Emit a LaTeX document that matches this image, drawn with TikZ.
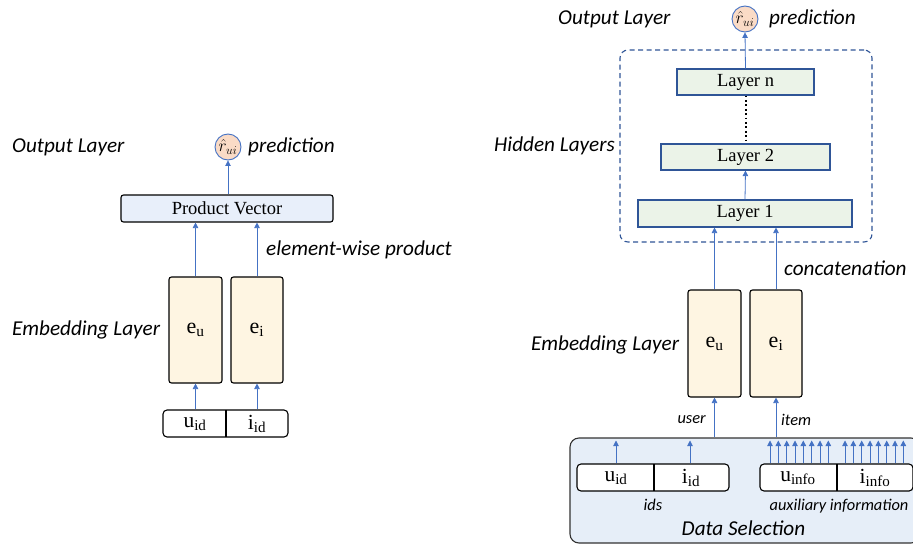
\documentclass[tikz,border=0pt]{standalone}
\usepackage{fontspec}
\setmainfont{Liberation Serif}
\newfontfamily\labfont{Carlito}
\usetikzlibrary{arrows.meta}
\definecolor{arrblue}{HTML}{4472C4}
\definecolor{navy}{HTML}{2F5597}
\definecolor{pvblue}{HTML}{E8EFFA}
\definecolor{cream}{HTML}{FEF5E2}
\definecolor{lgreen}{HTML}{EBF3E8}
\definecolor{peach}{HTML}{FADBC6}
\definecolor{dsblue}{HTML}{E6EEF8}
\definecolor{dsborder}{HTML}{333333}
\tikzset{
  boxs/.style={draw=black, line width=1.1pt, rounded corners=2.5pt, inner sep=0pt, font=\fontsize{18.5}{20}\selectfont},
  pvbox/.style={boxs, fill=pvblue, minimum width=212, minimum height=27},
  embbox/.style={boxs, fill=cream, minimum width=53, minimum height=106, font=\fontsize{22}{23}\selectfont},
  layerbox/.style={boxs, draw=navy, fill=lgreen, rounded corners=0pt, minimum height=26},
  idbox/.style={boxs, fill=white, rounded corners=4pt, minimum height=27},
  idtxt/.style={inner sep=0pt, font=\fontsize{21.5}{22}\selectfont},
  pred/.style={circle, draw=arrblue, fill=peach, line width=0.9pt, minimum size=26, inner sep=0pt, font=\fontsize{18.5}{19}\selectfont},
  lab/.style={inner sep=0pt, font=\labfont\itshape\fontsize{21.2}{25}\selectfont},
  smalllab/.style={inner sep=0pt, font=\labfont\itshape\fontsize{16.4}{19}\selectfont},
  arr/.style={draw=arrblue, line width=0.8pt, -{Triangle[width=5.5pt,length=5.5pt]}},
}
\begin{document}
\begin{tikzpicture}[x=1pt,y=-1pt]
\useasboundingbox (0,0) rectangle (913,546);
% ---------------- Left model ----------------
\node[lab, anchor=west] (ol1) at (12,147) {Output Layer};
\node[pred] (c1) at (228,147) {$\hat r_{ui}$};
\node[lab, anchor=west] (pr1) at (248,147) {prediction};
\node[pvbox] (pv) at (227,208.5) {Product Vector};
\node[embbox] (eu1) at (195.5,330) {e\textsubscript{u}};
\node[embbox, minimum width=52] (ei1) at (257,330) {e\textsubscript{i}};
\node[lab, anchor=west] (ewp) at (266,250) {element-wise product};
\node[lab, anchor=west] (el1) at (12,330) {Embedding Layer};
\node[idbox, minimum width=125] (id1) at (225.5,423.5) {};
\draw[black, line width=1.1pt] (226,410) -- (226,437);
\node[idtxt] (uid1) at (195,424) {u\textsubscript{id}};
\node[idtxt] (iid1) at (257,424) {i\textsubscript{id}};
\draw[arr] (eu1.north) -- (eu1.north |- pv.south);
\draw[arr] (ei1.north) -- (ei1.north |- pv.south);
\draw[arr] (pv.north -| c1.south) -- (c1.south);
\draw[arr] (eu1.south |- id1.north) -- (eu1.south);
\draw[arr] (ei1.south |- id1.north) -- (ei1.south);
% ---------------- Right model ----------------
\node[lab, anchor=west] (ol2) at (558,19) {Output Layer};
\node[pred] (c2) at (745,19) {$\hat r_{ui}$};
\node[lab, anchor=west] (pr2) at (769,19) {prediction};
\node[draw=navy, dashed, dash pattern=on 5pt off 3.5pt, line width=1.1pt, rounded corners=8pt, minimum width=252, minimum height=192, inner sep=0pt] (hid) at (746,146) {};
\node[lab, anchor=west] (hl) at (494,146) {Hidden Layers};
\node[layerbox, minimum width=137] (ln) at (745.5,82) {Layer n};
\node[layerbox, minimum width=169] (l2) at (745.5,157) {Layer 2};
\node[layerbox, minimum width=214, minimum height=27] (l1) at (745,213.5) {Layer 1};
\draw[black, line width=2pt, dash pattern=on 1.8pt off 2.6pt] (ln.south) -- (l2.north);
\draw[arr] (l1.north) -- (l2.south);
\draw[arr] (ln.north) -- (c2.south);
\node[embbox, minimum height=107] (eu2) at (714.5,343.5) {e\textsubscript{u}};
\node[embbox, minimum width=52, minimum height=107] (ei2) at (776,343.5) {e\textsubscript{i}};
\draw[arr] (eu2.north) -- (eu2.north |- l1.south);
\draw[arr] (ei2.north) -- (ei2.north |- l1.south);
\node[lab, anchor=west] (cc) at (784,268) {concatenation};
\node[lab, anchor=west] (el2) at (531,345) {Embedding Layer};
% data selection
\node[draw=dsborder, fill=dsblue, line width=1.1pt, rounded corners=9pt, minimum width=350, minimum height=105, inner sep=0pt] (ds) at (745,490.5) {};
\draw[arr] (eu2.south |- ds.north) -- (eu2.south);
\draw[arr] (ei2.south |- ds.north) -- (ei2.south);
\node[smalllab, anchor=east] (usr) at (706,420) {user};
\node[smalllab, anchor=west] (itm) at (781,420) {item};
\node[idbox, minimum width=152] (ids) at (653,477.5) {};
\draw[black, line width=1.1pt] (654,464) -- (654,491);
\node[idtxt] (uid2) at (616,478) {u\textsubscript{id}};
\node[idtxt] (iid2) at (691,478) {i\textsubscript{id}};
\coordinate (t1) at (616,440.5);
\coordinate (t2) at (690,440.5);
\draw[arr] (t1 |- ids.north) -- (t1);
\draw[arr] (t2 |- ids.north) -- (t2);
\node[idbox, minimum width=153] (inf) at (836.5,477.5) {};
\draw[black, line width=1.1pt] (837,464) -- (837,491);
\node[idtxt] (uinf) at (798,478) {u\textsubscript{info}};
\node[idtxt] (iinf) at (875,478) {i\textsubscript{info}};
\foreach \xx in {770,778.3,786.7,795,803.3,811.7,820,828.3,845,853.3,861.7,870,878.3,886.7,895,903.3} {
  \coordinate (tt) at (\xx,440.5);
  \draw[arr] (tt |- inf.north) -- (tt);
}
\node[smalllab] (idl) at (653,505) {ids};
\node[smalllab] (aux) at (839,506) {auxiliary information};
\node[lab] (dsl) at (743.5,528) {Data Selection};
\end{tikzpicture}
\end{document}
